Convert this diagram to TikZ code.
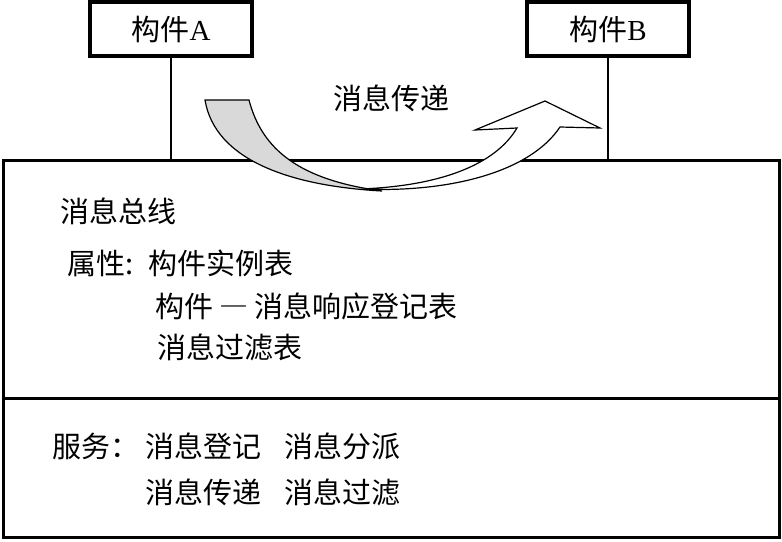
\documentclass[tikz,border=0pt]{standalone}
\usepackage{fontspec}
\setmainfont{Liberation Serif}
\newfontfamily\cjk{Noto Sans CJK SC}
\newcommand\zh{\fontsize{14.5}{17}\selectfont\cjk}

\begin{document}
\begin{tikzpicture}[x=0.5pt,y=-0.5pt,comp/.style={draw,line width=2pt,minimum width=81pt,minimum height=27pt,inner sep=0,outer sep=0,font=\zh},part/.style={draw,line width=1.5pt,minimum width=388pt,inner sep=0,outer sep=0},txt/.style={anchor=west,inner sep=0,font=\zh}]
\useasboundingbox (0,0) rectangle (782,541);
\node[comp] (a) at (171,29) {构件{\rmfamily A}};
\node[comp] (b) at (608,29) {构件{\rmfamily B}};
\node[part,minimum height=119pt] (bus) at (391,279) {};
\node[part,minimum height=69.5pt] (svc) at (391,467.5) {};
\foreach \c in {a,b}{\draw[line width=0.6pt] (\c.south)--(\c.south |- bus.north);}
% bent arrow over the bus
\draw[line width=0.6pt,fill=white] (360,189) .. controls (450,193) and (530,172) .. (560,127) -- (600,128) -- (545,101) -- (475,130) -- (517,128) .. controls (495,165) and (440,186) .. (360,189) -- cycle;
\draw[line width=0.6pt,fill=black!15] (205,100) -- (249,100) .. controls (262,150) and (300,180) .. (382,191) .. controls (290,186) and (215,160) .. (205,100) -- cycle;
\node[font=\zh,inner sep=0] (lbl) at (391,98) {消息传递};
\node[txt] (t1) at (60,211) {消息总线};
\node[txt] (t2) at (67,263) {属性:};
\node[txt] (t3) at (148,263) {构件实例表};
\node[txt] (t4) at (155,306) {构件\hspace{3pt}{\addfontfeature{RawFeature=+fwid}—}\hspace{3pt}消息响应登记表};
\node[txt] (t5) at (157,347) {消息过滤表};
\node[txt] (s1) at (52,446) {服务：};
\node[txt] (s2) at (145,446) {消息登记};
\node[txt] (s3) at (284,446) {消息分派};
\node[txt] (s4) at (145,492) {消息传递};
\node[txt] (s5) at (284,492) {消息过滤};
\end{tikzpicture}
\end{document}
